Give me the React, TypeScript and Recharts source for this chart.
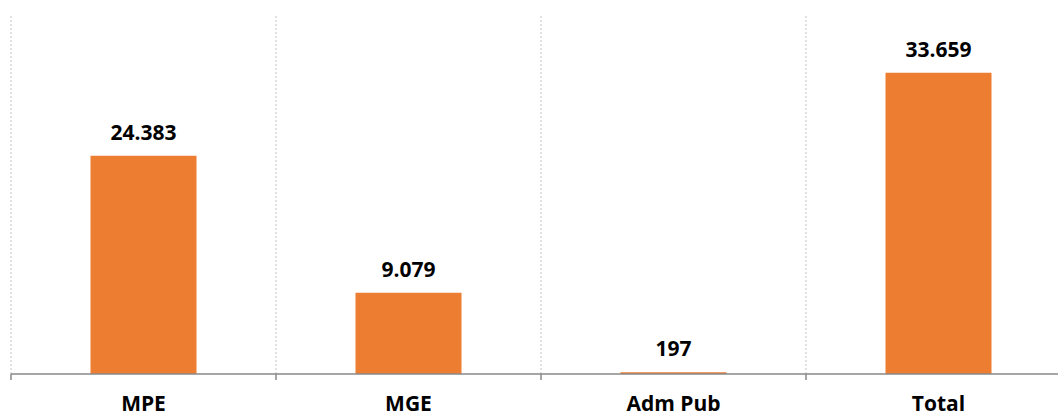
import { BarChart, Bar, XAxis, YAxis, CartesianGrid, LabelList } from "recharts";

const categories = ["MPE", "MGE", "Adm Pub", "Total"];
const values = [24383, 9079, 197, 33659];

const data = categories.map((name, i) => ({ name, value: values[i] }));

const CHART_W = 1080;
const CHART_H = 412;
const MARGIN = { top: 16, right: 9, bottom: 0, left: 11 };
const BAND = (CHART_W - MARGIN.left - MARGIN.right) / categories.length;
const FONT = "'Open Sans', 'Liberation Sans', sans-serif";

const fmt = (v: number) => String(v).replace(/\B(?=(\d{3})+(?!\d))/g, ".");

function CategoryTick(props: any) {
  const { x, y, payload } = props;
  return (
    <g>
      <line x1={x - BAND / 2} x2={x - BAND / 2} y1={y - 8} y2={y - 2} stroke="#898989" strokeWidth={1.5} />
      <text x={x} y={y + 29} textAnchor="middle" fontFamily={FONT} fontSize={21} fontWeight={700} fill="#000">
        {payload.value}
      </text>
    </g>
  );
}

export default function App() {
  return (
    <div style={{ position: "fixed", left: 0, top: 0, width: 1058, height: 412, overflow: "hidden", background: "#fff" }}>
      <BarChart width={CHART_W} height={CHART_H} data={data} margin={MARGIN} barCategoryGap="30%">
        <CartesianGrid
          horizontal={false}
          stroke="#c4c4c4"
          strokeDasharray="2 2"
          verticalCoordinatesGenerator={({ offset }: any) =>
            categories.map((_, i) => offset.left + i * (offset.width / categories.length))
          }
        />
        <XAxis
          dataKey="name"
          height={38}
          axisLine={{ stroke: "#898989", strokeWidth: 1.5 }}
          tickLine={false}
          tick={<CategoryTick />}
          interval={0}
        />
        <YAxis hide domain={[0, 40000]} />
        <Bar dataKey="value" fill="#ED7D31" isAnimationActive={false}>
          <LabelList
            dataKey="value"
            position="top"
            offset={16}
            formatter={(v: any) => fmt(Number(v))}
            style={{ fontFamily: FONT, fontSize: 21, fontWeight: 700, fill: "#000" }}
          />
        </Bar>
      </BarChart>
    </div>
  );
}
